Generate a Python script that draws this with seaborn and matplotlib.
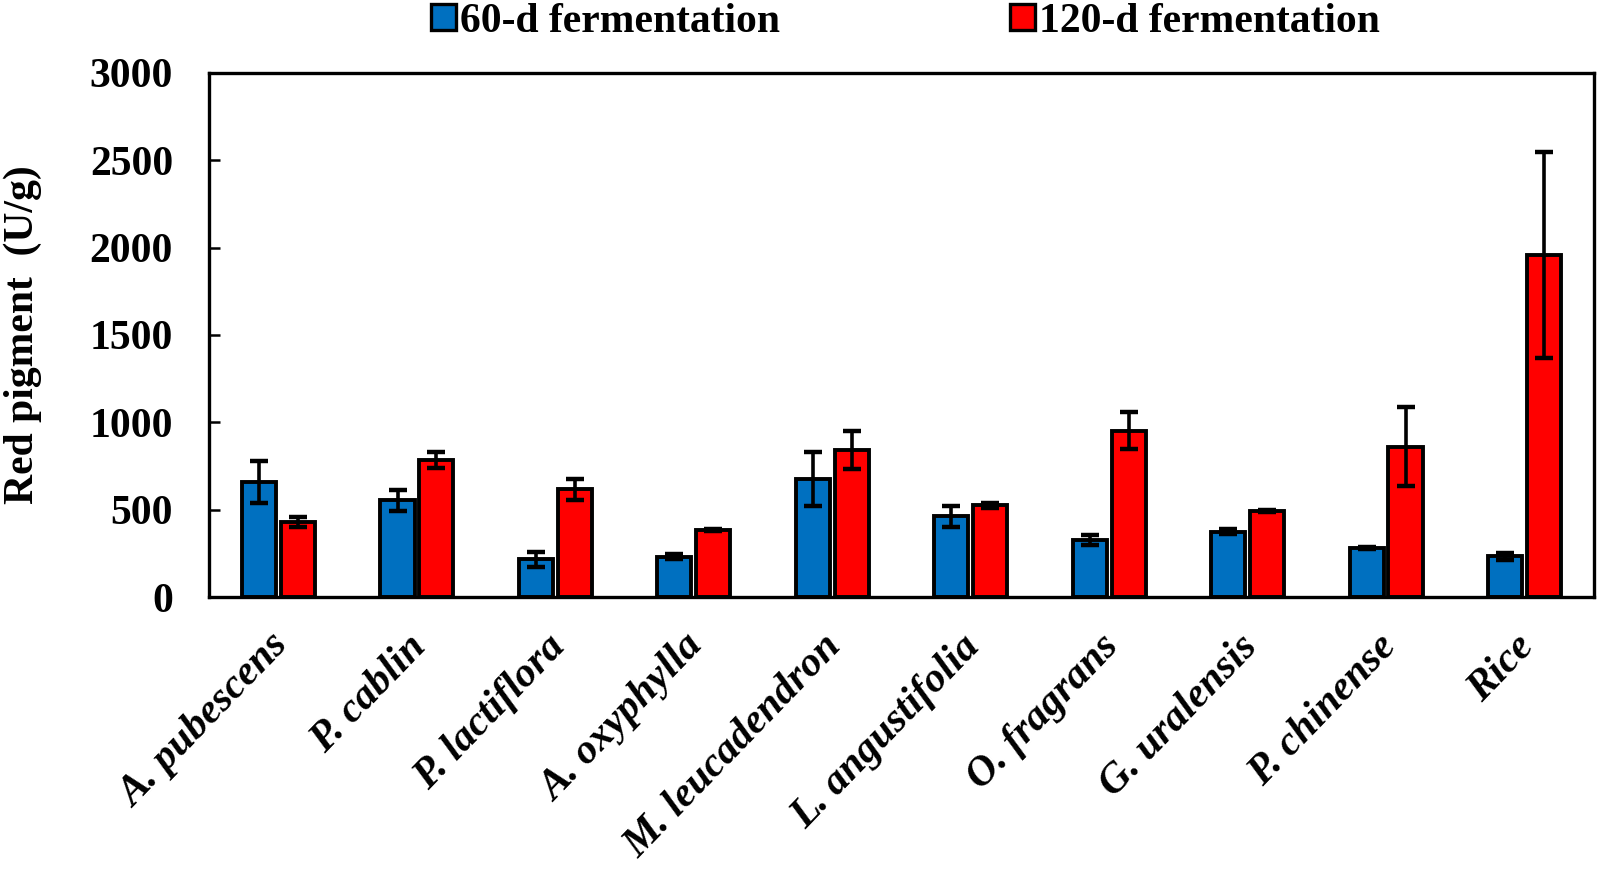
import numpy as np
import pandas as pd
import matplotlib
matplotlib.use("Agg")
import matplotlib.pyplot as plt
import matplotlib.transforms as mtransforms
import seaborn as sns

species = ["A. pubescens", "P. cablin", "P. lactiflora", "A. oxyphylla",
           "M. leucadendron", "L. angustifolia", "O. fragrans", "G. uralensis",
           "P. chinense", "Rice"]
periods = ["60-d fermentation", "120-d fermentation"]
pigment_60 = [660, 555, 215, 230, 677, 463, 325, 373, 281, 234]
sd_60 = [120, 60, 45, 15, 155, 60, 30, 15, 8, 20]
pigment_120 = [430, 785, 616, 383, 841, 526, 952, 492, 860, 1960]
sd_120 = [30, 45, 60, 5, 110, 15, 105, 5, 225, 590]

df = pd.DataFrame({
    "species": species * 2,
    "period": [periods[0]] * len(species) + [periods[1]] * len(species),
    "value": pigment_60 + pigment_120,
})
sds = [sd_60, sd_120]
colors = ["#0070C0", "#FF0000"]

sns.set_style("white")
plt.rcParams["font.family"] = ["Liberation Serif", "DejaVu Serif"]
plt.rcParams["font.weight"] = "bold"
plt.rcParams["text.color"] = "black"
plt.rcParams["xtick.color"] = "black"
plt.rcParams["ytick.color"] = "black"
plt.rcParams["axes.labelcolor"] = "black"

fig = plt.figure(figsize=(15.97, 8.69), dpi=100)
ax = fig.add_axes([0.131, 0.313, 0.867, 0.603])

sns.barplot(data=df, x="species", y="value", hue="period", order=species,
            hue_order=periods, palette=colors, saturation=1,
            width=0.56, gap=0.12, edgecolor="black", linewidth=2.8,
            errorbar=None, ax=ax)

# error bars on top of each bar
for cont, sd in zip(ax.containers, sds):
    xs = [b.get_x() + b.get_width() / 2 for b in cont]
    ys = [b.get_height() for b in cont]
    ax.errorbar(xs, ys, yerr=sd, fmt="none", ecolor="black",
                elinewidth=2.6, capsize=6.5, capthick=3.2, zorder=5)

ax.set_xlim(-0.5, len(species) - 0.5)
ax.set_ylim(0, 3000)
ax.set_yticks(range(0, 3001, 500))
ax.set_xlabel("")
ax.set_ylabel("Red pigment  (U/g)", fontsize=30, fontweight="bold", labelpad=34)

for s in ax.spines.values():
    s.set_visible(True)
    s.set_linewidth(2.4)
    s.set_color("black")

ax.tick_params(axis="y", direction="in", length=8, width=1.8, labelsize=30, pad=26, left=True)
ax.tick_params(axis="x", length=0, pad=22)
for lab in ax.get_yticklabels():
    lab.set_fontweight("bold")
ax.set_xticks(range(len(species)))
ax.set_xticklabels(species, rotation=46, ha="right", rotation_mode="anchor",
                   fontsize=30, fontstyle="italic", fontweight="bold")
shift = mtransforms.ScaledTranslation(-0.1, 0, fig.dpi_scale_trans)
for lab in ax.get_xticklabels():
    lab.set_transform(lab.get_transform() + shift)

ax.get_legend().remove()
handles = [plt.Rectangle((0, 0), 1, 1, facecolor=c, edgecolor="black", linewidth=2.4)
           for c in colors]
fig.legend(handles, periods, loc="upper center", bbox_to_anchor=(0.567, 1.04),
           ncol=2, frameon=False, handlelength=0.6, handleheight=0.6,
           handletextpad=0.1, columnspacing=5.5,
           prop={"size": 30, "weight": "bold"})

fig.savefig("out.png", dpi=100)
